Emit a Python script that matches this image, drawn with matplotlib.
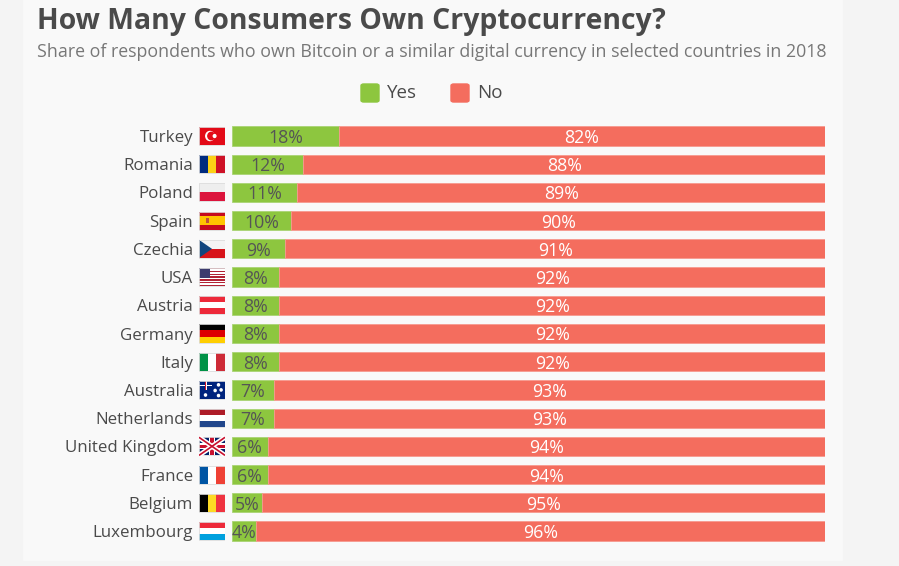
import numpy as np
import matplotlib.pyplot as plt
from matplotlib.patches import Rectangle, Polygon, Circle, FancyBboxPatch

# data
countries = ['Turkey', 'Romania', 'Poland', 'Spain', 'Czechia', 'USA', 'Austria',
             'Germany', 'Italy', 'Australia', 'Netherlands', 'United Kingdom',
             'France', 'Belgium', 'Luxembourg']
yes = [18, 12, 11, 10, 9, 8, 8, 8, 8, 7, 7, 6, 6, 5, 4]
no = [82, 88, 89, 90, 91, 92, 92, 92, 92, 93, 93, 94, 94, 95, 96]

GREEN = '#8dc63f'
RED = '#f46d5e'
BG = '#f9f9f9'
DARK = '#4a4a4a'

plt.rcParams['font.family'] = ['Open Sans', 'DejaVu Sans']

fig = plt.figure(figsize=(8.99, 5.66), dpi=100)
fig.patch.set_facecolor(BG)
W, H = 899, 566

def fx(px):
    return px / W

def fy(px):
    return 1 - px / H

# side strips
fig.add_artist(Rectangle((0, 0), fx(22), 1, transform=fig.transFigure, color='#f4f4f4', zorder=0))
fig.add_artist(Rectangle((fx(843), 0), 1 - fx(843), 1, transform=fig.transFigure, color='#f4f4f4', zorder=0))
fig.add_artist(Rectangle((0, 0), 1, 5 / H, transform=fig.transFigure, color='#f4f4f4', zorder=0))

# title
fig.text(fx(37), fy(22), 'How Many Consumers Own Cryptocurrency?', fontsize=20.4,
         fontweight='bold', color=DARK, va='center', ha='left')
fig.text(fx(37), fy(52), 'Share of respondents who own Bitcoin or a similar digital currency in selected countries in 2018',
         fontsize=12.8, color='#777777', va='center', ha='left')

# legend
for x0, col, lab in [(360, GREEN, 'Yes'), (450, RED, 'No')]:
    fig.add_artist(FancyBboxPatch((fx(x0 + 1), fy(102)), fx(18), 18 / H, transform=fig.transFigure,
                                  boxstyle='round,pad=0,rounding_size=0.003',
                                  color=col, zorder=2))
    fig.text(fx(x0 + 27), fy(93), lab, fontsize=13.5, color=DARK, va='center', ha='left')

# main axes
top, bot = 121.9, 545.1
ax = fig.add_axes([fx(232), fy(bot), fx(825) - fx(232), (bot - top) / H])
ax.set_facecolor('none')
y = np.arange(len(countries))
ax.barh(y, yes, height=0.68, color=GREEN, edgecolor='#a9d474', linewidth=0.6)
ax.barh(y, no, left=yes, height=0.68, color=RED, edgecolor='#f79a8f', linewidth=0.6)
for i in range(len(countries)):
    ax.text(yes[i] / 2, y[i], f'{yes[i]}%', ha='center', va='center_baseline', fontsize=12.8, color='#555555')
    ax.text(yes[i] + no[i] / 2, y[i], f'{no[i]}%', ha='center', va='center_baseline', fontsize=12.8, color='white')
ax.set_xlim(0, 100)
ax.set_ylim(len(countries) - 0.5, -0.5)
ax.set_yticks(y)
ax.set_yticklabels(countries, fontsize=12.2, color=DARK)
ax.tick_params(axis='y', length=0, pad=28)
ax.set_xticks([])
for s in ax.spines.values():
    s.set_visible(False)

# flags
fa = fig.add_axes([fx(199), fy(bot), fx(26), (bot - top) / H])
fa.set_xlim(0, 1)
fa.set_ylim(len(countries) - 0.5, -0.5)
fa.axis('off')

hf = 0.64

def stripes(yc, cols, orient='h', weights=None):
    n = len(cols)
    if weights is None:
        weights = [1] * n
    tot = sum(weights)
    pos = 0
    for c, w in zip(cols, weights):
        if orient == 'h':
            fa.add_patch(Rectangle((0, yc - hf / 2 + hf * pos / tot), 1, hf * w / tot, color=c, lw=0))
        else:
            fa.add_patch(Rectangle((pos / tot, yc - hf / 2), w / tot, hf, color=c, lw=0))
        pos += w

def flag(name, yc):
    if name == 'Turkey':
        stripes(yc, ['#e30a17'])
        fa.add_patch(Circle((0.42, yc), 0.16, color='white'))
        fa.add_patch(Circle((0.47, yc), 0.13, color='#e30a17'))
        fa.add_patch(Circle((0.6, yc), 0.05, color='white'))
    elif name == 'Romania':
        stripes(yc, ['#002b7f', '#fcd116', '#ce1126'], 'v')
    elif name == 'Poland':
        stripes(yc, ['#eeeeee', '#dc143c'])
    elif name == 'Spain':
        stripes(yc, ['#c60b1e', '#ffc400', '#c60b1e'], weights=[1, 2, 1])
        fa.add_patch(Rectangle((0.25, yc - 0.1), 0.15, 0.2, color='#c0503a', lw=0))
    elif name == 'Czechia':
        stripes(yc, ['#f4f4f4', '#d7141a'])
        fa.add_patch(Polygon([(0, yc - hf / 2), (0.5, yc), (0, yc + hf / 2)], color='#11457e', lw=0))
    elif name == 'USA':
        stripes(yc, ['#b22234', 'white'] * 6 + ['#b22234'])
        fa.add_patch(Rectangle((0, yc - hf / 2), 0.42, hf * 7 / 13, color='#3c3b6e', lw=0))
    elif name == 'Austria':
        stripes(yc, ['#ed2939', 'white', '#ed2939'])
    elif name == 'Germany':
        stripes(yc, ['#000000', '#dd0000', '#ffce00'])
    elif name == 'Italy':
        stripes(yc, ['#009246', 'white', '#ce2b37'], 'v')
    elif name == 'Australia':
        stripes(yc, ['#00247d'])
        fa.add_patch(Rectangle((0, yc - hf / 2 + 0.13), 0.5, 0.06, color='white', lw=0))
        fa.add_patch(Rectangle((0.22, yc - hf / 2), 0.07, hf / 2, color='white', lw=0))
        fa.add_patch(Rectangle((0.23, yc - hf / 2), 0.04, hf / 2, color='#cf142b', lw=0))
        for sx, sy in [(0.75, -0.18), (0.62, 0.02), (0.85, 0.0), (0.75, 0.2), (0.25, 0.18)]:
            fa.add_patch(Circle((sx, yc + sy), 0.04, color='white'))
    elif name == 'Netherlands':
        stripes(yc, ['#ae1c28', 'white', '#21468b'])
    elif name == 'United Kingdom':
        stripes(yc, ['#012169'])
        y0, y1 = yc - hf / 2, yc + hf / 2
        fa.plot([0, 1], [y0, y1], color='white', lw=3.5, solid_capstyle='butt')
        fa.plot([0, 1], [y1, y0], color='white', lw=3.5, solid_capstyle='butt')
        fa.plot([0, 1], [y0, y1], color='#c8102e', lw=1.2, solid_capstyle='butt')
        fa.plot([0, 1], [y1, y0], color='#c8102e', lw=1.2, solid_capstyle='butt')
        fa.add_patch(Rectangle((0.4, y0), 0.2, hf, color='white', lw=0))
        fa.add_patch(Rectangle((0, yc - 0.11), 1, 0.22, color='white', lw=0))
        fa.add_patch(Rectangle((0.44, y0), 0.12, hf, color='#c8102e', lw=0))
        fa.add_patch(Rectangle((0, yc - 0.065), 1, 0.13, color='#c8102e', lw=0))
    elif name == 'France':
        stripes(yc, ['#0055a4', 'white', '#ef4135'], 'v')
    elif name == 'Belgium':
        stripes(yc, ['#000000', '#fdda24', '#ef3340'], 'v')
    elif name == 'Luxembourg':
        stripes(yc, ['#ed2939', 'white', '#00a1de'])
    fa.add_patch(Rectangle((0, yc - hf / 2), 1, hf, fill=False, ec='#dddddd', lw=0.6))

for i, c in enumerate(countries):
    flag(c, y[i])

fig.savefig('out.png', dpi=100, facecolor=fig.get_facecolor())
